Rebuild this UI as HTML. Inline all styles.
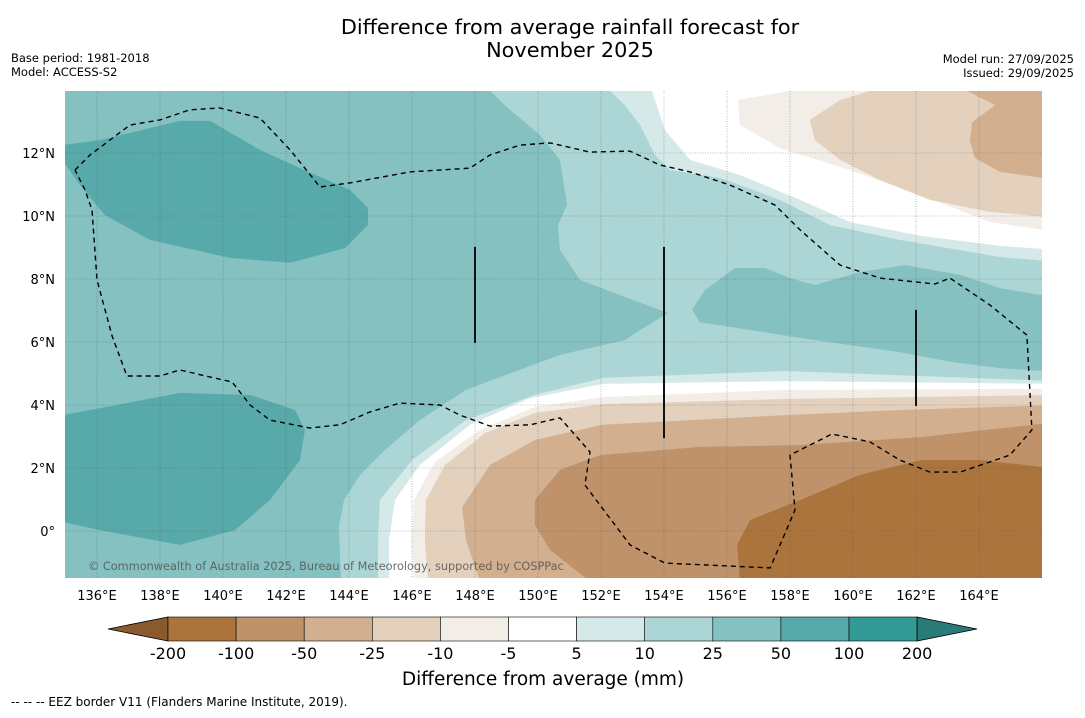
<!DOCTYPE html>
<html><head><meta charset="utf-8"><style>
body{margin:0;background:#fff;width:1085px;height:713px;overflow:hidden;font-family:"Liberation Sans","DejaVu Sans",sans-serif}
svg text{font-family:"DejaVu Sans","Liberation Sans",sans-serif}
</style></head><body>
<svg id="chart" width="1085" height="713" viewBox="0 0 1085 713" xmlns="http://www.w3.org/2000/svg">
<text x="570" y="34" text-anchor="middle" font-size="20.8">Difference from average rainfall forecast for</text>
<text x="570" y="57" text-anchor="middle" font-size="20.8">November 2025</text>
<text x="11" y="62" font-size="11.5">Base period: 1981-2018</text>
<text x="11" y="76" font-size="11.5">Model: ACCESS-S2</text>
<text x="1074" y="63" font-size="11.5" text-anchor="end">Model run: 27/09/2025</text>
<text x="1074" y="77" font-size="11.5" text-anchor="end">Issued: 29/09/2025</text>
<defs><clipPath id="mapclip"><rect x="65" y="91" width="977" height="487"/></clipPath></defs>
<g id="map" clip-path="url(#mapclip)"></g>
<g id="axes"></g>
<g id="cbar"></g>
<text x="543" y="685" text-anchor="middle" font-size="18.5">Difference from average (mm)</text>
<text x="11" y="706" font-size="12">--  --  -- EEZ border V11 (Flanders Marine Institute, 2019).</text>
</svg>
<script>
const lonTicks=[136,138,140,142,144,146,148,150,152,154,156,158,160,162,164];
const latTicks=[0,2,4,6,8,10,12];
const cbarLevels=["-200","-100","-50","-25","-10","-5","5","10","25","50","100","200"];
const cbarColors=["#ab743d","#c0926a","#d2b08f","#e3d0bd","#f2ede7","#ffffff","#d6e9e9","#acd6d5","#84c1c0","#58aaaa","#339995"];
const bgLevel="#84c1c0";
const band10to25=[[148.48,13.97],[149.11,13.37],[150.06,12.57],[150.7,11.78],[150.92,10.35],[150.63,9.71],[150.7,8.92],[151.33,7.97],[152.6,7.49],[154.13,6.92],[153.24,6.38],[152.76,6.06],[150.7,5.59],[147.71,4.48],[146.25,3.52],[145.14,2.57],[144.35,1.78],[143.84,0.98],[143.68,0.13],[143.75,-1.6],[166.5,-1.6],[166.5,14.1],[148.48,14.1]];
const blob25to50=[[154.89,7.02],[155.3,7.65],[156.25,8.35],[157.21,8.35],[158.0,8.03],[158.79,7.81],[160.22,8.22],[161.65,8.44],[163.4,8.13],[164.67,7.71],[166.5,7.4],[166.5,5.05],[164.67,5.17],[163.08,5.37],[161.49,5.68],[159.9,5.9],[158.32,6.13],[156.73,6.38],[155.14,6.63]];
const nw50to100=[[134.9,12.25],[136.1,12.41],[138.63,13.02],[139.59,13.02],[141.17,12.1],[142.44,11.52],[144.03,10.83],[144.6,10.25],[144.6,9.71],[143.87,8.98],[142.13,8.51],[140.22,8.67],[137.68,9.24],[136.25,10.03],[135.46,10.98],[134.9,11.78]];
const sw50to100=[[134.9,3.68],[136.1,3.9],[138.63,4.38],[140.86,4.32],[142.29,3.84],[142.6,3.2],[142.44,2.25],[141.49,0.98],[140.38,0.03],[138.63,-0.44],[136.1,0.03],[134.9,0.29]];
const top5to10=[[152.29,14.1],[152.29,13.97],[152.76,13.52],[153.24,12.89],[153.71,11.94],[154.19,11.46],[155.78,11.21],[157.68,10.51],[159.27,9.71],[161.49,9.24],[164.67,8.7],[166.5,8.54],[166.5,14.1]];
const topWhite=[[153.62,14.1],[153.62,13.97],[154.03,12.73],[154.83,11.78],[156.41,11.3],[158.32,10.51],[159.9,9.81],[162.13,9.37],[164.67,9.05],[166.5,8.92],[166.5,14.1]];
const topM10=[[158.0,14.1],[158.0,13.97],[156.35,13.68],[156.41,12.89],[157.68,12.16],[159.9,11.46],[162.13,10.67],[164.35,9.81],[166.5,9.49],[166.5,14.1]];
const topM25=[[160.54,14.1],[160.54,13.97],[159.59,13.68],[158.63,13.05],[158.79,12.41],[159.59,11.78],[160.86,11.14],[162.44,10.51],[164.35,10.13],[166.5,9.94],[166.5,14.1]];
const topM50=[[163.62,14.1],[163.62,13.97],[164.51,13.52],[163.78,12.98],[163.71,12.41],[163.87,11.84],[164.67,11.4],[166.5,11.14],[166.5,14.1]];
const bot5to10=[[166.5,4.76],[157.84,5.08],[152.06,4.86],[149.9,4.32],[147.71,3.52],[146.0,2.25],[144.98,0.98],[144.92,-0.29],[144.92,-1.6],[166.5,-1.6]];
const botWhite=[[166.5,4.67],[157.84,4.76],[152.06,4.67],[149.75,4.22],[147.84,3.37],[146.25,2.1],[145.46,0.98],[145.27,-0.29],[145.27,-1.6],[166.5,-1.6]];
const botM10=[[166.5,4.51],[157.84,4.48],[152.06,4.25],[149.9,3.94],[148.16,3.21],[146.73,2.19],[146.06,0.98],[146.0,-0.29],[146.06,-1.6],[166.5,-1.6]];
const botM25=[[166.5,4.32],[157.84,4.19],[152.06,4.03],[149.9,3.75],[148.32,3.11],[147.05,2.1],[146.44,0.98],[146.41,-0.29],[146.51,-1.6],[166.5,-1.6]];
const botM50=[[166.5,4.0],[161.49,3.84],[157.84,3.68],[152.06,3.37],[149.9,2.89],[148.48,2.1],[147.59,0.76],[147.71,-0.29],[148.16,-1.6],[166.5,-1.6]];
const botM100=[[166.5,3.46],[162.13,2.98],[158.32,2.73],[155.14,2.67],[151.97,2.41],[150.7,1.94],[149.9,0.98],[149.9,0.19],[150.38,-0.6],[151.65,-1.6],[166.5,-1.6]];
const botM200=[[166.5,1.98],[164.03,2.25],[162.16,2.25],[160.22,1.78],[158.32,0.98],[156.73,0.35],[156.32,-0.44],[156.41,-1.6],[166.5,-1.6]];
const eez=[[135.3,11.46],[135.78,11.94],[137.05,12.89],[138.0,13.05],[138.95,13.37],[139.9,13.43],[141.17,13.11],[142.13,12.1],[143.08,10.92],[144.03,11.05],[145.94,11.4],[147.84,11.52],[148.48,11.94],[149.43,12.25],[150.38,12.32],[151.65,12.03],[152.92,12.06],[153.87,11.62],[154.83,11.4],[156.1,10.98],[157.52,10.35],[158.32,9.56],[159.59,8.44],[160.86,8.03],[162.6,7.84],[163.08,8.03],[164.35,7.17],[165.52,6.22],[165.68,3.21],[164.98,2.41],[163.4,1.87],[162.44,1.87],[161.49,2.25],[160.54,2.83],[159.33,3.08],[158.0,2.41],[158.16,0.67],[157.37,-1.17],[154.03,-1.02],[152.92,-0.44],[151.49,1.46],[151.65,2.51],[150.7,3.59],[149.75,3.37],[148.48,3.33],[147.52,3.68],[146.89,4.0],[145.62,4.06],[144.67,3.78],[143.71,3.37],[142.76,3.27],[141.49,3.52],[140.86,4.0],[140.29,4.73],[138.63,5.11],[138.0,4.92],[136.95,4.92],[136.48,6.19],[136.0,7.97],[135.84,10.19],[135.62,10.83],[135.3,11.46]];
const boundaryLines=[[[148,9.02],[148,5.97]],[[154,9.02],[154,2.95]],[[162,7.02],[162,3.97]]];

const NS='http://www.w3.org/2000/svg';
const xS=lon=>97+(lon-136)*31.5;
const yS=lat=>531-lat*31.5;
function mk(tag,attrs,parent){const e=document.createElementNS(NS,tag);for(const k in attrs)e.setAttribute(k,attrs[k]);parent.appendChild(e);return e;}
const pts=a=>a.map(p=>xS(p[0]).toFixed(1)+','+yS(p[1]).toFixed(1)).join(' ');
const map=document.getElementById('map');
const bg=mk('rect',{x:65,y:91,width:977,height:487,fill:bgLevel},map);


const layers=[
 ['contour-10-25',band10to25,"#acd6d5"],['contour-25-50-east',blob25to50,"#84c1c0"],
 ['contour-50-100-northwest',nw50to100,"#58aaaa"],['contour-50-100-southwest',sw50to100,"#58aaaa"],
 ['contour-5-10-north',top5to10,"#d6e9e9"],['contour-white-north',topWhite,"#ffffff"],
 ['contour-minus10-north',topM10,"#f2ede7"],['contour-minus25-north',topM25,"#e3d0bd"],['contour-minus50-north',topM50,"#d2b08f"],
 ['contour-5-10-south',bot5to10,"#d6e9e9"],['contour-white-south',botWhite,"#ffffff"],['contour-minus10-south',botM10,"#f2ede7"],
 ['contour-minus25-south',botM25,"#e3d0bd"],['contour-minus50-south',botM50,"#d2b08f"],['contour-minus100-south',botM100,"#c0926a"],['contour-minus200-south',botM200,"#ab743d"]];
layers.forEach(l=>{const p=mk('polygon',{points:pts(l[1]),fill:l[2]},map);

});
lonTicks.forEach(v=>{const g=mk('line',{x1:xS(v),x2:xS(v),y1:91,y2:578,stroke:'#555','stroke-width':0.6,'stroke-dasharray':'1,1.5','stroke-opacity':0.7},map);

});
latTicks.forEach(v=>{const g=mk('line',{x1:65,x2:1042,y1:yS(v),y2:yS(v),stroke:'#555','stroke-width':0.6,'stroke-dasharray':'1,1.5','stroke-opacity':0.7},map);

});
const ez=mk('polyline',{points:pts(eez),fill:'none',stroke:'#000','stroke-width':1.4,'stroke-dasharray':'5,4'},map);


boundaryLines.forEach((b,i)=>{const l=mk('line',{x1:xS(b[0][0]),y1:yS(b[0][1]),x2:xS(b[1][0]),y2:yS(b[1][1]),stroke:'#111','stroke-width':2},map);

});
const cr=mk('text',{x:88,y:570,'font-size':11.3,fill:'#555','fill-opacity':0.85},map);
cr.textContent='© Commonwealth of Australia 2025, Bureau of Meteorology, supported by COSPPac';


const ax=document.getElementById('axes');
lonTicks.forEach(v=>{const t=mk('text',{x:xS(v),y:600,'font-size':13,'text-anchor':'middle'},ax);t.textContent=v+'°E';

});
latTicks.forEach(v=>{const t=mk('text',{x:55,y:yS(v)+5,'font-size':13,'text-anchor':'end'},ax);t.textContent=v===0?'0°':v+'°N';

});
const cb=document.getElementById('cbar');
const cx0=168,cw=68.1,cy=617,ch=24;
const lt=mk('polygon',{points:`${cx0},${cy} ${cx0},${cy+ch} 108,${cy+ch/2}`,fill:'#8a5a2e',stroke:'#000','stroke-width':0.8},cb);


cbarColors.forEach((c,i)=>{const r=mk('rect',{x:cx0+i*cw,y:cy,width:cw,height:ch,fill:c,stroke:'#000','stroke-width':0.6},cb);

});
const xe=cx0+cbarColors.length*cw;
const rt=mk('polygon',{points:`${xe},${cy} ${xe},${cy+ch} 977,${cy+ch/2}`,fill:'#2a7a78',stroke:'#000','stroke-width':0.8},cb);


cbarLevels.forEach((s,i)=>{const t=mk('text',{x:cx0+i*cw,y:659,'font-size':16,'text-anchor':'middle'},cb);t.textContent=s;

});
</script>
</body></html>
